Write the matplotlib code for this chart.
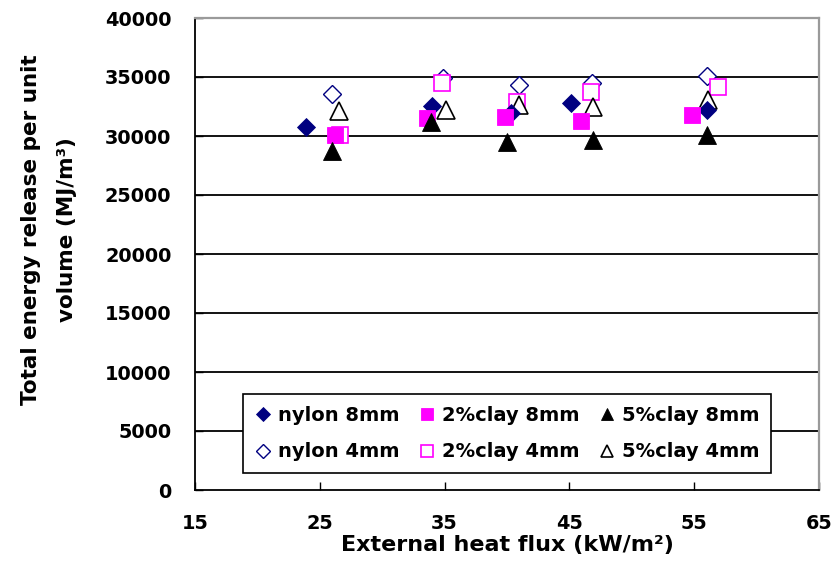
import matplotlib
matplotlib.use("Agg")
import matplotlib.pyplot as plt

# ---- data ----
nylon8_x = [23.9, 34.0, 40.3, 45.1, 56.0]
nylon8_y = [30750, 32550, 31950, 32800, 32200]
nylon4_x = [26.0, 34.9, 41.0, 46.8, 56.0]
nylon4_y = [33600, 34900, 34300, 34450, 35100]
clay2_8_x = [26.2, 33.6, 39.8, 45.9, 54.8]
clay2_8_y = [30050, 31550, 31600, 31300, 31750]
clay2_4_x = [26.6, 34.8, 40.8, 46.7, 56.9]
clay2_4_y = [30050, 34450, 32900, 33750, 34150]
clay5_8_x = [26.0, 33.9, 40.0, 46.9, 56.0]
clay5_8_y = [28700, 31200, 29450, 29700, 30050]
clay5_4_x = [26.5, 35.1, 41.0, 46.9, 56.1]
clay5_4_y = [32150, 32200, 32600, 32500, 33050]

x_ticks = [15, 25, 35, 45, 55, 65]
y_ticks = [0, 5000, 10000, 15000, 20000, 25000, 30000, 35000, 40000]

NAVY = "#000080"
MAG = "#FF00FF"

plt.rcParams['font.family'] = ['DejaVu Sans']
plt.rcParams['font.weight'] = 'bold'

fig = plt.figure(figsize=(8.32, 5.74), dpi=100)
ax = fig.add_axes([195/832, 1-490/574, 624/832, 472/574])

# open (4mm) series first
h_n4, = ax.plot(nylon4_x, nylon4_y, linestyle='none', marker='D', ms=9.5,
                mfc='white', mec=NAVY, mew=1.0, label='nylon 4mm', zorder=3)
h_c24, = ax.plot(clay2_4_x, clay2_4_y, linestyle='none', marker='s', ms=11.5,
                 mfc='white', mec=MAG, mew=1.2, label='2%clay 4mm', zorder=3)
h_c54, = ax.plot(clay5_4_x, clay5_4_y, linestyle='none', marker='^', ms=12.5,
                 mfc='white', mec='black', mew=1.2, label='5%clay 4mm', zorder=3)
# filled (8mm) series
h_n8, = ax.plot(nylon8_x, nylon8_y, linestyle='none', marker='D', ms=9.5,
                mfc=NAVY, mec=NAVY, mew=0.6, label='nylon 8mm', zorder=4)
h_c28, = ax.plot(clay2_8_x, clay2_8_y, linestyle='none', marker='s', ms=11.5,
                 mfc=MAG, mec=MAG, mew=0.6, label='2%clay 8mm', zorder=4)
h_c58, = ax.plot(clay5_8_x, clay5_8_y, linestyle='none', marker='^', ms=12.5,
                 mfc='black', mec='black', mew=0.6, label='5%clay 8mm', zorder=4)

ax.set_xlim(x_ticks[0], x_ticks[-1])
ax.set_ylim(y_ticks[0], y_ticks[-1])
ax.set_xticks(x_ticks)
ax.set_yticks(y_ticks)
ax.set_xticklabels([str(v) for v in x_ticks])
ax.set_yticklabels([str(v) for v in y_ticks])

ax.tick_params(axis='x', direction='in', length=6, width=1.0, pad=17,
               labelsize=13.9, colors='black')
ax.tick_params(axis='y', direction='in', length=6, width=1.0, pad=17,
               labelsize=13.9, colors='black')
for lab in ax.get_xticklabels() + ax.get_yticklabels():
    lab.set_fontweight('bold')

ax.yaxis.grid(True, color='black', linewidth=1.3)
ax.set_axisbelow(True)
ax.get_ygridlines()[-1].set_visible(False)
ax.get_ygridlines()[0].set_visible(False)

for s in ['left', 'bottom']:
    ax.spines[s].set_color('black')
    ax.spines[s].set_linewidth(1.3)
for s in ['top', 'right']:
    ax.spines[s].set_color('#9a9a9a')
    ax.spines[s].set_linewidth(1.6)

ax.set_xlabel('External heat flux (kW/m²)', fontsize=16, fontweight='bold',
              labelpad=2)

fig.text(49/832, 1-230/574, 'Total energy release per unit\nvolume (MJ/m³)',
         rotation=90, ha='center', va='center', multialignment='center',
         fontsize=15.5, fontweight='bold', linespacing=1.95)

x0 = (243-195)/624
y0 = (490-473)/472
w = (771-243)/624
h = (473-383)/472
leg = ax.legend(handles=[h_n8, h_n4, h_c28, h_c24, h_c58, h_c54],
                ncol=3, loc='lower left', bbox_to_anchor=(x0, y0, w, h),
                mode='expand', fontsize=14, frameon=True, fancybox=False,
                edgecolor='black', framealpha=1.0, borderpad=0.6,
                labelspacing=0.9, handlelength=0.9, handletextpad=0.3,
                columnspacing=0.8, markerscale=0.72, borderaxespad=0)
leg.get_frame().set_linewidth(1.2)
leg.set_zorder(10)
for t in leg.get_texts():
    t.set_fontweight('bold')

fig.savefig('out.png', dpi=100)
